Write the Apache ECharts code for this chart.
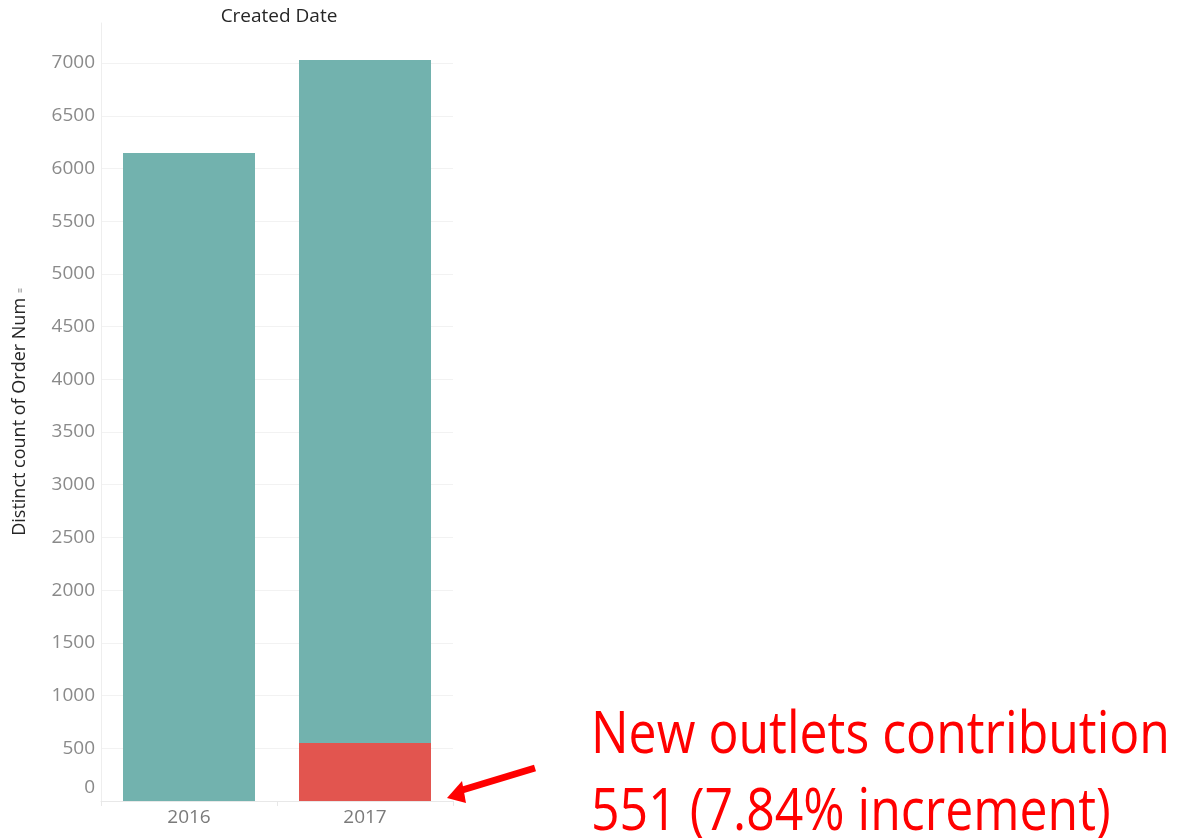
<!DOCTYPE html>
<html>
<head>
<meta charset="utf-8">
<script src="https://cdn.jsdelivr.net/npm/echarts@6/dist/echarts.min.js"></script>
<style>
  html, body { margin: 0; padding: 0; background: #fff; }
  #chart { width: 1178px; height: 838px; }
</style>
</head>
<body>
<div id="chart"></div>
<script>
// Orders per year, split into existing outlets and new outlets
const years = ['2016', '2017'];
const newOutlets = [0, 551];
const existingOutlets = [6148, 6477];
const yTicks = [0, 500, 1000, 1500, 2000, 2500, 3000, 3500, 4000, 4500, 5000, 5500, 6000, 6500, 7000];
const noteLines = ['New outlets contribution', '551 (7.84% increment)'];

const chart = echarts.init(document.getElementById('chart'));

const option = {
  animation: false,
  title: {
    text: 'Created Date',
    left: 274, top: 2, textAlign: 'center',
    textStyle: { fontFamily: 'Open Sans', fontSize: 19, fontWeight: 'normal', color: '#262626' }
  },
  grid: { left: 101, right: 725, top: 23, bottom: 37 },
  xAxis: {
    type: 'category',
    data: years,
    axisLine: { show: true, lineStyle: { color: '#e8e8e8' } },
    axisTick: { show: true, alignWithLabel: false, length: 5, lineStyle: { color: '#e8e8e8' } },
    axisLabel: { fontFamily: 'Open Sans', fontSize: 19, color: '#7a7a7a', margin: 7 }
  },
  yAxis: {
    type: 'value',
    min: 0, max: 7380,
    name: 'Distinct count of Order Num {i|≡}',
    nameLocation: 'middle',
    nameGap: 72,
    nameRotate: 90,
    nameTextStyle: {
      fontFamily: 'Open Sans', fontSize: 18, color: '#262626',
      rich: { i: { fontSize: 9, color: '#555' } }
    },
    axisLine: { show: true, lineStyle: { color: '#eeeeee' } },
    axisTick: { show: false, customValues: yTicks },
    axisLabel: {
      customValues: yTicks,
      fontFamily: 'Open Sans', fontSize: 19, color: '#8a8a8a', margin: 6,
      formatter: v => v === 0 ? '{z|0}' : String(v),
      rich: { z: { fontFamily: 'Open Sans', fontSize: 19, color: '#8a8a8a', padding: [0, 0, 26, 0] } }
    },
    splitLine: { show: true, lineStyle: { color: '#f2f2f2' } }
  },
  series: [
    {
      name: 'New outlets',
      type: 'bar',
      stack: 'orders',
      data: newOutlets,
      barWidth: '75%',
      itemStyle: { color: '#e2554f' }
    },
    {
      name: 'Existing outlets',
      type: 'bar',
      stack: 'orders',
      data: existingOutlets,
      barWidth: '75%',
      itemStyle: { color: '#72b2ae' }
    }
  ]
};
chart.setOption(option);

// Narrow the note font so the first line spans the intended width
const noteFont = '400 58px "Open Sans"';
const ctx = document.createElement('canvas').getContext('2d');
ctx.font = noteFont;
const noteScale = 579 / ctx.measureText(noteLines[0]).width;

// Callout: arrow pointing at the 2017 new-outlet segment plus the note
const tip = chart.convertToPixel({ gridIndex: 0 }, [1, 0]);
const tipX = tip[0] + 82;
const tipY = tip[1] - 3;
chart.setOption({
  graphic: [
    {
      type: 'line',
      shape: { x1: tipX + 12, y1: tipY - 7, x2: tipX + 88, y2: tipY - 30 },
      style: { stroke: '#ff0000', lineWidth: 7 }
    },
    {
      type: 'polygon',
      shape: { points: [[tipX, tipY], [tipX + 15, tipY - 17], [tipX + 19, tipY + 5]] },
      style: { fill: '#ff0000' }
    },
    {
      type: 'text',
      x: 591, y: 707, scaleX: noteScale,
      style: { text: noteLines[0], font: noteFont, fill: '#ff0000', textVerticalAlign: 'top' }
    },
    {
      type: 'text',
      x: 591, y: 784, scaleX: noteScale,
      style: { text: noteLines[1], font: noteFont, fill: '#ff0000', textVerticalAlign: 'top' }
    }
  ]
});
</script>
</body>
</html>
